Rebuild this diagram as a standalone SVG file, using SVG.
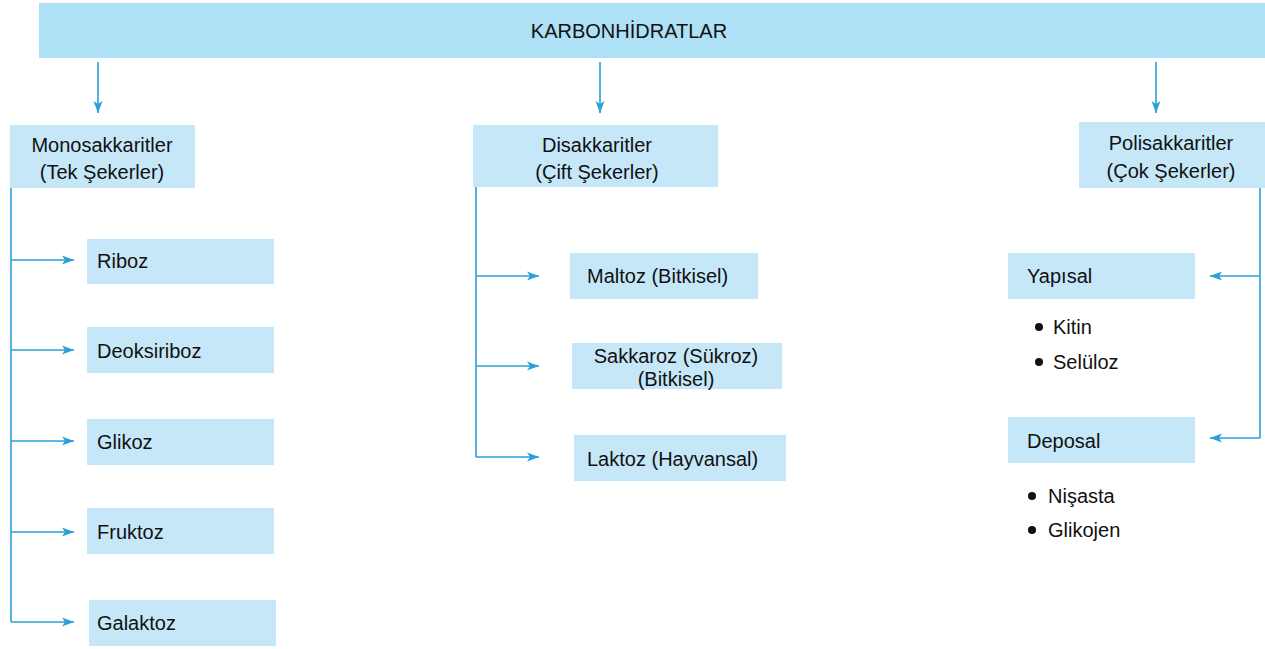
<svg xmlns="http://www.w3.org/2000/svg" width="1265" height="649" viewBox="0 0 1265 649">
<defs>
<style>
.box{fill:#c6e7f8}
.top{fill:#aee0f6}
.t{font-family:"Liberation Sans",Arial,sans-serif;font-size:20px;fill:#111111}
.c{text-anchor:middle}
.ln{stroke:#2a9fd8;stroke-width:1.6;fill:none}
.dot{fill:#111111}
</style>
<marker id="ah" viewBox="0 0 12 10" refX="12" refY="5" markerWidth="12" markerHeight="10" markerUnits="userSpaceOnUse" orient="auto">
<path d="M0,0.5 L12,5 L0,9.5 L3,5 Z" fill="#2a9fd8"/>
</marker>
</defs>
<rect width="1265" height="649" fill="#ffffff"/>
<g id="n-root"><rect class="top" x="39" y="3" width="1226" height="55"/><text class="t c" x="629" y="38">KARBONHİDRATLAR</text></g>
<g id="n-mono"><rect class="box" x="10" y="125" width="185" height="63"/><text class="t c" x="102" y="152">Monosakkaritler</text><text class="t c" x="102" y="179">(Tek Şekerler)</text></g>
<g id="n-di"><rect class="box" x="473" y="125" width="245" height="62"/><text class="t c" x="597" y="152">Disakkaritler</text><text class="t c" x="597" y="179">(Çift Şekerler)</text></g>
<g id="n-poli"><rect class="box" x="1079" y="122" width="186" height="66"/><text class="t c" x="1171" y="150">Polisakkaritler</text><text class="t c" x="1171" y="178">(Çok Şekerler)</text></g>
<g id="n-riboz"><rect class="box" x="87" y="239" width="187" height="45"/><text class="t" x="97" y="268">Riboz</text></g>
<g id="n-deoksiriboz"><rect class="box" x="87" y="327" width="187" height="46"/><text class="t" x="97" y="358">Deoksiriboz</text></g>
<g id="n-glikoz"><rect class="box" x="87" y="419" width="187" height="46"/><text class="t" x="97" y="449">Glikoz</text></g>
<g id="n-fruktoz"><rect class="box" x="87" y="508" width="187" height="46"/><text class="t" x="97" y="539">Fruktoz</text></g>
<g id="n-galaktoz"><rect class="box" x="89" y="600" width="187" height="46"/><text class="t" x="97" y="630">Galaktoz</text></g>
<g id="n-maltoz"><rect class="box" x="570" y="253" width="188" height="46"/><text class="t" x="587" y="283">Maltoz (Bitkisel)</text></g>
<g id="n-sakkaroz"><rect class="box" x="572" y="343" width="210" height="46"/><text class="t c" x="676" y="363">Sakkaroz (Sükroz)</text><text class="t c" x="676" y="386">(Bitkisel)</text></g>
<g id="n-laktoz"><rect class="box" x="574" y="435" width="212" height="46"/><text class="t" x="587" y="466">Laktoz (Hayvansal)</text></g>
<g id="n-yapisal"><rect class="box" x="1008" y="253" width="187" height="46"/><text class="t" x="1027" y="283">Yapısal</text></g>
<g id="n-deposal"><rect class="box" x="1008" y="417" width="187" height="46"/><text class="t" x="1027" y="448">Deposal</text></g>
<g id="l-yapisal"><circle class="dot" cx="1039" cy="327" r="4"/><text class="t" x="1053" y="334">Kitin</text><circle class="dot" cx="1039" cy="362" r="4"/><text class="t" x="1053" y="369">Selüloz</text></g>
<g id="l-deposal"><circle class="dot" cx="1032" cy="496" r="4"/><text class="t" x="1048" y="503">Nişasta</text><circle class="dot" cx="1032" cy="530" r="4"/><text class="t" x="1048" y="537">Glikojen</text></g>
<g id="connectors">
<line class="ln" x1="98" y1="62" x2="98" y2="113" marker-end="url(#ah)"/>
<line class="ln" x1="600" y1="62" x2="600" y2="113" marker-end="url(#ah)"/>
<line class="ln" x1="1156" y1="62" x2="1156" y2="113" marker-end="url(#ah)"/>
<polyline class="ln" points="11,188 11,622"/>
<line class="ln" x1="11" y1="260" x2="74" y2="260" marker-end="url(#ah)"/>
<line class="ln" x1="11" y1="350" x2="74" y2="350" marker-end="url(#ah)"/>
<line class="ln" x1="11" y1="441" x2="74" y2="441" marker-end="url(#ah)"/>
<line class="ln" x1="11" y1="532" x2="74" y2="532" marker-end="url(#ah)"/>
<line class="ln" x1="11" y1="622" x2="74" y2="622" marker-end="url(#ah)"/>
<polyline class="ln" points="476,187 476,457"/>
<line class="ln" x1="476" y1="276" x2="539" y2="276" marker-end="url(#ah)"/>
<line class="ln" x1="476" y1="366" x2="539" y2="366" marker-end="url(#ah)"/>
<line class="ln" x1="476" y1="457" x2="539" y2="457" marker-end="url(#ah)"/>
<polyline class="ln" points="1260,188 1260,438"/>
<line class="ln" x1="1260" y1="276" x2="1210" y2="276" marker-end="url(#ah)"/>
<line class="ln" x1="1260" y1="438" x2="1210" y2="438" marker-end="url(#ah)"/>
</g>
</svg>
